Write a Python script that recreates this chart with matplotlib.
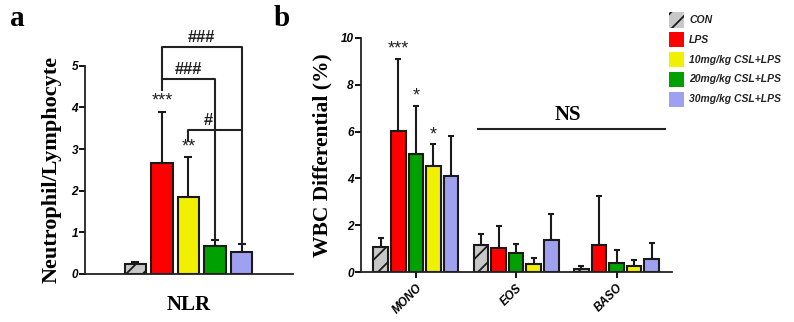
import matplotlib
matplotlib.use("Agg")
import matplotlib.pyplot as plt
from matplotlib.patches import Rectangle
from matplotlib.font_manager import FontProperties
import numpy as np

plt.rcParams["hatch.linewidth"] = 1.3

# ---- data ----
groups = ["CON", "LPS", "10mg/kg CSL+LPS", "20mg/kg CSL+LPS", "30mg/kg CSL+LPS"]
colors = ["#c8c8c8", "#ff0000", "#f0f000", "#00a000", "#a0a0f0"]

# Panel a: neutrophil / lymphocyte ratio
nlr_mean = [0.25, 2.67, 1.84, 0.68, 0.54]
nlr_sd = [0.03, 1.23, 0.96, 0.14, 0.19]
nlr_stars = ["", "***", "**", "", ""]

# Panel b: WBC differential (%)
wbc_cats = ["MONO", "EOS", "BASO"]
wbc_mean = {
    "CON": [1.08, 1.15, 0.15],
    "LPS": [6.02, 1.05, 1.18],
    "10mg/kg CSL+LPS": [4.53, 0.37, 0.27],
    "20mg/kg CSL+LPS": [5.03, 0.81, 0.40],
    "30mg/kg CSL+LPS": [4.10, 1.36, 0.55],
}
wbc_sd = {
    "CON": [0.39, 0.48, 0.12],
    "LPS": [3.07, 0.92, 2.06],
    "10mg/kg CSL+LPS": [0.92, 0.25, 0.24],
    "20mg/kg CSL+LPS": [2.06, 0.40, 0.54],
    "30mg/kg CSL+LPS": [1.70, 1.14, 0.71],
}
wbc_stars = {"LPS": ["***", "", ""], "20mg/kg CSL+LPS": ["*", "", ""],
             "10mg/kg CSL+LPS": ["*", "", ""]}
# left-to-right slot of each group within a category
wbc_slot = {"CON": 0, "LPS": 1, "20mg/kg CSL+LPS": 2, "10mg/kg CSL+LPS": 3, "30mg/kg CSL+LPS": 4}

W, H = 794, 322
fig = plt.figure(figsize=(W / 100, H / 100), dpi=100)


def px_axes(left, right, bottom, top):
    return fig.add_axes([left / W, 1 - bottom / H, (right - left) / W, (bottom - top) / H])


edge = "#1a1a1a"
ink = "#222222"
serif = "Liberation Serif"
sans = "Liberation Sans"
tick_font = dict(family=sans, weight="bold", style="italic", size=8.5)
star_kw = dict(ha="center", va="bottom", family=sans, size=13, color=ink)


def style_axes(ax):
    for s in ("top", "right"):
        ax.spines[s].set_visible(False)
    for s in ("left", "bottom"):
        ax.spines[s].set_linewidth(1.3)
        ax.spines[s].set_color(ink)
    ax.tick_params(axis="y", direction="out", length=4, width=1.3, pad=1)
    for lab in ax.get_yticklabels():
        lab.set_fontproperties(FontProperties(**tick_font))


# ---- panel a ----
axa = px_axes(85, 293, 274, 65.7)
xa = np.arange(len(groups))
for i, g in enumerate(groups):
    axa.bar(xa[i], nlr_mean[i], width=0.8, color=colors[i], edgecolor=edge, linewidth=1.5,
            hatch="//" if g == "CON" else None, zorder=2)
axa.errorbar(xa, nlr_mean, yerr=[np.zeros(len(xa)), nlr_sd], fmt="none", ecolor=edge,
             elinewidth=1.5, capsize=3, capthick=1.5, zorder=1)
axa.set_xlim(-1.9, 5.94)
axa.set_ylim(0, 5)
axa.set_yticks([0, 1, 2, 3, 4, 5])
axa.set_xticks([])
style_axes(axa)
axa.set_ylabel("Neutrophil/Lymphocyte", family=serif, weight="bold", size=16, labelpad=7)
axa.set_xlabel("NLR", family=serif, weight="bold", size=15, labelpad=15)
for i, s in enumerate(nlr_stars):
    if s:
        axa.text(xa[i], nlr_mean[i] + nlr_sd[i] + 0.05, s, **star_kw)

# comparison brackets
bk = dict(color=ink, lw=1.5, clip_on=False)
axa.plot([1, 1, 4, 4], [4.42, 5.46, 5.46, 0.73], **bk)
axa.plot([1, 3, 3], [4.69, 4.69, 0.82], **bk)
axa.plot([2, 2, 4], [3.22, 3.46, 3.46], **bk)
hash_kw = dict(ha="center", va="bottom", family=sans, size=12, weight="bold", color=ink,
               clip_on=False)
axa.text(2.5, 5.5, "###", **hash_kw)
axa.text(2.0, 4.73, "###", **hash_kw)
axa.text(2.75, 3.5, "#", **hash_kw)

fig.text(10 / W, 1 - 18 / H, "a", family=serif, weight="bold", size=21, va="center")

# ---- panel b ----
axb = px_axes(360.7, 671.7, 272.3, 37.7)
xb = np.arange(len(wbc_cats))
bw, step = 0.145, 0.175
for i, g in enumerate(groups):
    pos = xb + (wbc_slot[g] - 2) * step
    axb.bar(pos, wbc_mean[g], width=bw, color=colors[i], edgecolor=edge, linewidth=1.5,
            hatch="//" if g == "CON" else None, zorder=2)
    axb.errorbar(pos, wbc_mean[g], yerr=[np.zeros(len(pos)), wbc_sd[g]], fmt="none",
                 ecolor=edge, elinewidth=1.5, capsize=2.5, capthick=1.5, zorder=1)
    for j, s in enumerate(wbc_stars.get(g, [])):
        if s:
            axb.text(pos[j], wbc_mean[g][j] + wbc_sd[g][j] + 0.05, s, **star_kw)
axb.set_xlim(-0.55, 2.55)
axb.set_ylim(0, 10)
axb.set_yticks([0, 2, 4, 6, 8, 10])
axb.set_xticks(xb)
axb.set_xticklabels(wbc_cats, rotation=45, ha="right", rotation_mode="anchor", **tick_font)
axb.tick_params(axis="x", direction="out", length=4, width=1.3, pad=3)
style_axes(axb)
axb.set_ylabel("WBC Differential (%)", family=serif, weight="bold", size=15.5, labelpad=6)
axb.plot([0.62, 2.48], [6.09, 6.09], color=ink, lw=1.5, clip_on=False)
axb.text(1.52, 6.3, "NS", ha="center", va="bottom", family=serif, weight="bold", size=15)

fig.text(282 / W, 1 - 18 / H, "b", family=serif, weight="bold", size=21, va="center", ha="center")

# ---- legend (drawn as figure-level swatches + labels) ----
for i, (g, c) in enumerate(zip(groups, colors)):
    yc = 20 + 19.8 * i
    sw = Rectangle((669 / W, 1 - (yc + 7.5) / H), 15 / W, 15 / H, transform=fig.transFigure,
                   facecolor=c, edgecolor=edge if g == "CON" else c, linewidth=0,
                   hatch="//" if g == "CON" else None)
    fig.patches.append(sw)
    fig.text(689 / W, 1 - yc / H, g, va="center", ha="left", family=sans, weight="bold",
             style="italic", size=7.5, color=ink)

fig.savefig("out.png", dpi=100)
